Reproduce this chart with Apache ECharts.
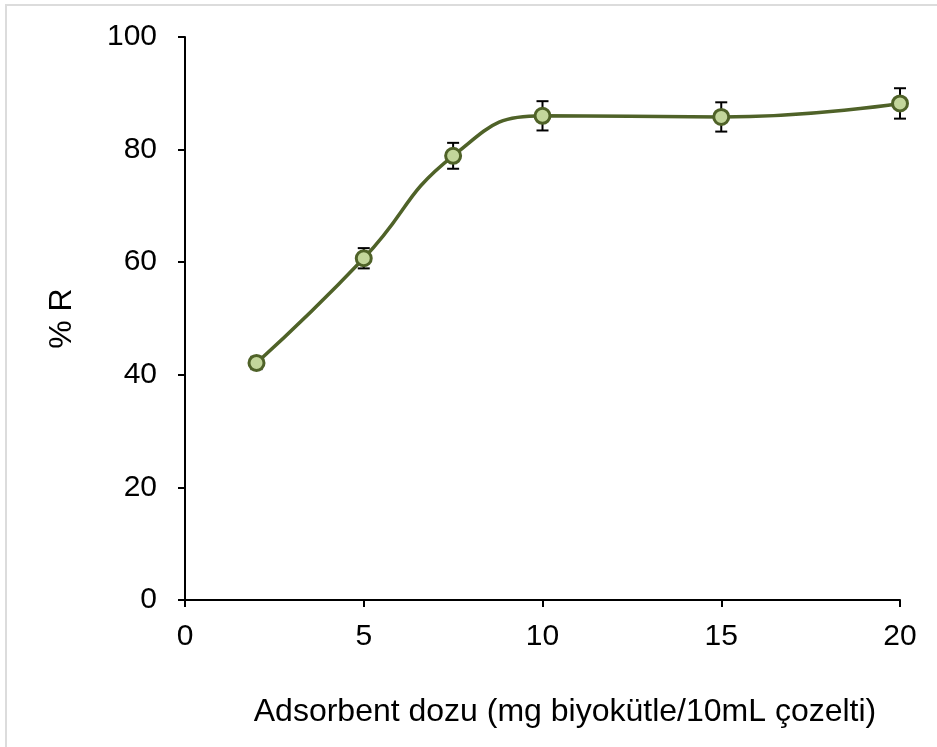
<!DOCTYPE html>
<html>
<head>
<meta charset="utf-8">
<script src="https://cdn.jsdelivr.net/npm/echarts@6/dist/echarts.min.js"></script>
<style>
html,body{margin:0;padding:0;background:#fff;}
#chart{width:937px;height:747px;}
</style>
</head>
<body>
<div id="chart"></div>
<script>
// Adsorbent dose (mg) vs removal percentage
const doses = [2, 5, 7.5, 10, 15, 20];
const removal = [42.1, 60.7, 78.9, 86.0, 85.8, 88.2];
const errors = [1.1, 1.8, 2.3, 2.6, 2.6, 2.7];
const xTicks = [0, 5, 10, 15, 20];
const yTicks = [0, 20, 40, 60, 80, 100];

const lineData = doses.map((d, i) => [d, removal[i]]);
const errData = doses.map((d, i) => [d, removal[i] - errors[i], removal[i] + errors[i]]);

const chart = echarts.init(document.getElementById('chart'), null, {renderer: 'canvas'});
const font = '"Liberation Sans", Arial, sans-serif';

chart.setOption({
  animation: false,
  backgroundColor: '#fff',
  graphic: [{
    type: 'rect',
    shape: {x: 6, y: 5, width: 1000, height: 800},
    style: {fill: 'none', stroke: '#dcdcdc', lineWidth: 2},
    z: -1
  }],
  grid: {left: 185, right: 37, top: 37, bottom: 147},
  xAxis: {
    type: 'value',
    min: 0, max: 20, interval: 5,
    name: 'Adsorbent dozu (mg biyokütle/10mL çozelti)',
    nameLocation: 'middle',
    nameGap: 96,
    nameTextStyle: {fontFamily: font, fontSize: 32, color: '#000', padding: [0, 0, 0, 45]},
    axisLine: {lineStyle: {color: '#000', width: 2}},
    axisTick: {show: true, length: 7, lineStyle: {color: '#000', width: 2}},
    axisLabel: {fontFamily: font, fontSize: 30, color: '#000', margin: 22,
      formatter: v => xTicks.includes(v) ? String(v) : ''},
    splitLine: {show: false}
  },
  yAxis: {
    type: 'value',
    min: 0, max: 100, interval: 20,
    name: '% R',
    nameLocation: 'middle',
    nameGap: 107,
    nameRotate: 90,
    nameTextStyle: {fontFamily: font, fontSize: 32, color: '#000'},
    axisLine: {show: true, lineStyle: {color: '#000', width: 2}},
    axisTick: {show: true, length: 7, lineStyle: {color: '#000', width: 2}},
    axisLabel: {fontFamily: font, fontSize: 30, color: '#000', margin: 28,
      formatter: v => yTicks.includes(v) ? String(v) : ''},
    splitLine: {show: false}
  },
  series: [
    {
      type: 'line',
      data: lineData,
      smooth: 0.5,
      symbol: 'circle',
      symbolSize: 15,
      lineStyle: {color: '#4f6228', width: 3.5},
      itemStyle: {color: '#c3d69b', borderColor: '#4f6228', borderWidth: 3},
      z: 3
    },
    {
      type: 'custom',
      data: errData,
      z: 2,
      renderItem: function (params, api) {
        const x = api.value(0);
        const lo = api.coord([x, api.value(1)]);
        const hi = api.coord([x, api.value(2)]);
        const cap = 6;
        const st = {stroke: '#000', lineWidth: 2};
        return {
          type: 'group',
          children: [
            {type: 'line', shape: {x1: lo[0], y1: lo[1], x2: hi[0], y2: hi[1]}, style: st},
            {type: 'line', shape: {x1: lo[0] - cap, y1: lo[1], x2: lo[0] + cap, y2: lo[1]}, style: st},
            {type: 'line', shape: {x1: hi[0] - cap, y1: hi[1], x2: hi[0] + cap, y2: hi[1]}, style: st}
          ]
        };
      }
    }
  ]
});
</script>
</body>
</html>
